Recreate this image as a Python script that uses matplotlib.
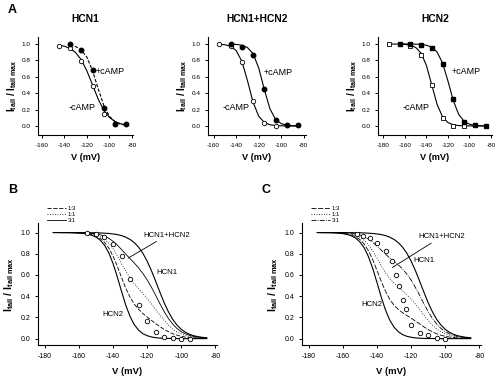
import matplotlib
matplotlib.use("Agg")
import matplotlib.pyplot as plt

plt.rcParams['font.family'] = ['Liberation Sans', 'DejaVu Sans']
plt.rcParams['mathtext.fontset'] = 'custom'
plt.rcParams['mathtext.rm'] = 'Liberation Sans'
plt.rcParams['mathtext.bf'] = 'Liberation Sans:bold'
plt.rcParams['mathtext.it'] = 'Liberation Sans:italic'

# ---------------- Panel A data ----------------
titles_a = ["HCN1", "HCN1+HCN2", "HCN2"]

# HCN1
a1_minus_v = [-145, -140, -135, -130, -125, -120, -115, -110, -105, -100, -95, -90, -85]
a1_minus_fit = [0.986, 0.973, 0.946, 0.895, 0.807, 0.671, 0.5, 0.329, 0.193, 0.105, 0.054, 0.027, 0.014]
a1_plus_v = [-135, -130, -125, -120, -115, -110, -105, -100, -95, -90, -85]
a1_plus_fit = [0.987, 0.969, 0.928, 0.838, 0.674, 0.455, 0.252, 0.119, 0.052, 0.021, 0.009]
a1_open_v = [-145, -135, -125, -115, -105, -95]
a1_open_y = [0.98, 0.95, 0.79, 0.49, 0.15, 0.03]
a1_fill_v = [-135, -125, -115, -105, -95, -85]
a1_fill_y = [1.0, 0.93, 0.68, 0.22, 0.03, 0.02]

# HCN1+HCN2
a2_minus_v = [-155, -150, -145, -140, -135, -130, -125, -120, -115, -110, -105, -100, -95, -90, -85]
a2_minus_fit = [0.997, 0.991, 0.972, 0.920, 0.791, 0.555, 0.291, 0.119, 0.043, 0.015, 0.005, 0.002, 0.001, 0.0, 0.0]
a2_plus_v = [-145, -140, -135, -130, -125, -120, -115, -110, -105, -100, -95, -90, -85]
a2_plus_fit = [0.998, 0.995, 0.985, 0.957, 0.881, 0.709, 0.445, 0.209, 0.080, 0.028, 0.009, 0.003, 0.001]
a2_open_v = [-155, -145, -135, -125, -115, -105]
a2_open_y = [1.0, 0.97, 0.78, 0.30, 0.04, 0.0]
a2_fill_v = [-145, -135, -125, -115, -105, -95, -85]
a2_fill_y = [1.0, 0.96, 0.86, 0.45, 0.07, 0.01, 0.01]

# HCN2
a3_minus_v = [-175, -170, -165, -160, -155, -150, -145, -140, -135, -130, -125, -120, -115, -110, -105, -100, -95, -90, -85]
a3_minus_fit = [1.0, 0.999, 0.998, 0.995, 0.985, 0.958, 0.889, 0.739, 0.5, 0.261, 0.111, 0.042, 0.015, 0.005, 0.002, 0.001, 0.0, 0.0, 0.0]
a3_plus_v = [-165, -160, -155, -150, -145, -140, -135, -130, -125, -120, -115, -110, -105, -100, -95, -90, -85]
a3_plus_fit = [1.0, 1.0, 0.999, 0.998, 0.994, 0.985, 0.961, 0.900, 0.769, 0.550, 0.310, 0.142, 0.057, 0.022, 0.008, 0.003, 0.001]
a3_open_v = [-175, -155, -145, -135, -125, -115, -105]
a3_open_y = [1.0, 0.98, 0.86, 0.50, 0.10, 0.0, 0.0]
a3_fill_v = [-165, -155, -145, -135, -125, -115, -105, -95, -85]
a3_fill_y = [1.0, 1.0, 0.99, 0.95, 0.76, 0.33, 0.05, 0.01, 0.0]

# ---------------- Panels B / C data ----------------
v_grid = [-175, -172.5, -170, -167.5, -165, -162.5, -160, -157.5, -155, -152.5, -150, -147.5,
          -145, -142.5, -140, -137.5, -135, -132.5, -130, -127.5, -125, -122.5, -120, -117.5,
          -115, -112.5, -110, -107.5, -105, -102.5, -100, -97.5, -95, -92.5, -90, -87.5, -85]

hcn1_curve = [1.0, 1.0, 1.0, 1.0, 1.0, 1.0, 1.0, 0.999, 0.999, 0.998, 0.998, 0.996,
              0.994, 0.991, 0.987, 0.981, 0.971, 0.956, 0.935, 0.905, 0.862, 0.805, 0.731, 0.642,
              0.542, 0.438, 0.339, 0.253, 0.182, 0.128, 0.088, 0.060, 0.040, 0.027, 0.018, 0.012, 0.008]

b_hcn2_curve = [1.0, 1.0, 0.999, 0.999, 0.998, 0.997, 0.995, 0.992, 0.985, 0.975, 0.957, 0.928,
                0.881, 0.809, 0.709, 0.583, 0.445, 0.315, 0.209, 0.131, 0.080, 0.047, 0.028, 0.016,
                0.009, 0.005, 0.003, 0.002, 0.001, 0.001, 0.0, 0.0, 0.0, 0.0, 0.0, 0.0, 0.0]
b_mix13 = [1.0, 1.0, 0.999, 0.999, 0.999, 0.998, 0.996, 0.994, 0.989, 0.981, 0.967, 0.945,
           0.909, 0.855, 0.779, 0.683, 0.577, 0.475, 0.391, 0.325, 0.276, 0.237, 0.204, 0.173,
           0.142, 0.113, 0.087, 0.065, 0.046, 0.033, 0.022, 0.015, 0.010, 0.007, 0.005, 0.003, 0.002]
b_mix11 = [1.0, 1.0, 1.0, 0.999, 0.999, 0.998, 0.998, 0.996, 0.992, 0.987, 0.978, 0.962,
           0.938, 0.900, 0.848, 0.782, 0.708, 0.636, 0.572, 0.518, 0.471, 0.426, 0.380, 0.329,
           0.276, 0.222, 0.171, 0.128, 0.092, 0.065, 0.044, 0.030, 0.020, 0.014, 0.009, 0.006, 0.004]
b_mix31 = [1.0, 1.0, 1.0, 1.0, 1.0, 0.999, 0.999, 0.997, 0.995, 0.992, 0.988, 0.979,
           0.966, 0.946, 0.918, 0.882, 0.840, 0.796, 0.754, 0.712, 0.667, 0.615, 0.555, 0.486,
           0.409, 0.330, 0.255, 0.190, 0.137, 0.096, 0.066, 0.045, 0.030, 0.020, 0.014, 0.009, 0.006]
b_circ_v = [-155, -150, -145, -140, -135, -130, -125, -120, -115, -110, -105, -100, -95]
b_circ_y = [1.0, 0.99, 0.96, 0.89, 0.78, 0.56, 0.32, 0.17, 0.06, 0.02, 0.01, 0.0, 0.0]

c_hcn2_curve = [1.0, 0.999, 0.999, 0.998, 0.997, 0.994, 0.990, 0.982, 0.969, 0.947, 0.911, 0.856,
                0.772, 0.661, 0.528, 0.391, 0.269, 0.174, 0.108, 0.065, 0.038, 0.022, 0.013, 0.007,
                0.004, 0.002, 0.001, 0.001, 0.0, 0.0, 0.0, 0.0, 0.0, 0.0, 0.0, 0.0, 0.0]
c_mix13 = [1.0, 0.999, 0.999, 0.999, 0.998, 0.996, 0.993, 0.986, 0.977, 0.960, 0.933, 0.891,
           0.828, 0.744, 0.643, 0.539, 0.445, 0.370, 0.315, 0.275, 0.244, 0.218, 0.193, 0.166,
           0.139, 0.111, 0.086, 0.064, 0.046, 0.032, 0.022, 0.015, 0.010, 0.007, 0.005, 0.003, 0.002]
c_mix11 = [1.0, 1.0, 1.0, 0.999, 0.999, 0.997, 0.995, 0.991, 0.984, 0.973, 0.955, 0.926,
           0.883, 0.826, 0.758, 0.686, 0.620, 0.565, 0.522, 0.485, 0.450, 0.414, 0.372, 0.325,
           0.273, 0.220, 0.170, 0.127, 0.091, 0.064, 0.044, 0.030, 0.020, 0.014, 0.009, 0.006, 0.004]
c_mix31 = [1.0, 1.0, 1.0, 1.0, 0.999, 0.999, 0.998, 0.995, 0.992, 0.985, 0.976, 0.961,
           0.939, 0.909, 0.872, 0.834, 0.796, 0.761, 0.728, 0.695, 0.656, 0.609, 0.552, 0.483,
           0.408, 0.329, 0.255, 0.190, 0.137, 0.096, 0.066, 0.045, 0.030, 0.020, 0.014, 0.009, 0.006]
c_circ_v = [-152, -148, -144, -140, -135, -131, -129, -127, -125, -123, -120, -115, -110, -105, -100]
c_circ_y = [0.99, 0.97, 0.95, 0.90, 0.83, 0.73, 0.60, 0.50, 0.36, 0.28, 0.13, 0.05, 0.03, 0.01, 0.0]

legend_labels = ["1:3", "1:1", "3:1"]
y_ticks = [0.0, 0.2, 0.4, 0.6, 0.8, 1.0]
y_ticklabels = ["0.0", "0.2", "0.4", "0.6", "0.8", "1.0"]

YLAB = r'$\mathbf{I_{tail}\ /\ I_{tail\ max}}$'

W, H = 500, 381
fig = plt.figure(figsize=(5.0, 3.81), dpi=100)


def add_ax(l, r, t, b):
    return fig.add_axes([l / W, 1 - b / H, (r - l) / W, (b - t) / H])


def style(ax, fs, xticks, xlim, ylim):
    for s in ['top', 'right']:
        ax.spines[s].set_visible(False)
    for s in ['left', 'bottom']:
        ax.spines[s].set_linewidth(0.8)
    ax.set_xlim(*xlim)
    ax.set_ylim(*ylim)
    ax.set_xticks(xticks)
    ax.set_xticklabels([str(t) for t in xticks])
    ax.set_yticks(y_ticks)
    ax.set_yticklabels(y_ticklabels)
    ax.tick_params(direction='out', length=2.5, width=0.7, labelsize=fs, pad=3)
    ax.patch.set_visible(False)


lw = 0.8
ms = 3.2

# ---- Panel A ----
axA = [add_ax(38, 133, 37, 135), add_ax(208, 306, 37, 135), add_ax(378, 492, 37, 135)]
style(axA[0], 4.6, [-160, -140, -120, -100, -80], (-163.5, -79), (-0.11, 1.085))
style(axA[1], 4.6, [-160, -140, -120, -100, -80], (-165, -78), (-0.11, 1.085))
style(axA[2], 4.6, [-180, -160, -140, -120, -100, -80], (-185, -79), (-0.11, 1.085))

ax = axA[0]
ax.plot(a1_minus_v, a1_minus_fit, color='black', lw=lw)
ax.plot(a1_plus_v, a1_plus_fit, color='black', lw=lw, ls=(0, (3, 1.5)))
ax.plot(a1_open_v, a1_open_y, 'o', mfc='white', mec='black', mew=0.6, ms=ms)
ax.plot(a1_fill_v, a1_fill_y, 'o', color='black', ms=ms)
ax.text(-112, 0.66, '+cAMP', fontsize=6.5, va='center', ha='left')
ax.text(-136, 0.23, '-cAMP', fontsize=6.5, va='center', ha='left')

ax = axA[1]
ax.plot(a2_minus_v, a2_minus_fit, color='black', lw=lw)
ax.plot(a2_plus_v, a2_plus_fit, color='black', lw=lw)
ax.plot(a2_open_v, a2_open_y, 'o', mfc='white', mec='black', mew=0.6, ms=ms)
ax.plot(a2_fill_v, a2_fill_y, 'o', color='black', ms=ms)
ax.text(-116, 0.65, '+cAMP', fontsize=6.5, va='center', ha='left')
ax.text(-152, 0.22, '-cAMP', fontsize=6.5, va='center', ha='left')

ax = axA[2]
ax.plot(a3_minus_v, a3_minus_fit, color='black', lw=lw)
ax.plot(a3_plus_v, a3_plus_fit, color='black', lw=lw)
ax.plot(a3_open_v, a3_open_y, 's', mfc='white', mec='black', mew=0.6, ms=ms * 0.9)
ax.plot(a3_fill_v, a3_fill_y, 's', color='black', ms=ms * 0.9)
ax.text(-117, 0.66, '+cAMP', fontsize=6.5, va='center', ha='left')
ax.text(-162, 0.22, '-cAMP', fontsize=6.5, va='center', ha='left')

for ax, t in zip(axA, titles_a):
    ax.set_title(t, fontsize=7.4, fontweight='bold', pad=11)
    ax.set_xlabel('V (mV)', fontsize=6.6, fontweight='bold', labelpad=4)
    ax.set_ylabel(YLAB, fontsize=7.2, labelpad=2)

# ---- Panels B and C ----
axB = add_ax(38, 217, 223, 345)
axC = add_ax(302, 481, 223, 345)
for ax in (axB, axC):
    style(ax, 5.0, [-180, -160, -140, -120, -100, -80], (-184, -79), (-0.06, 1.09))
    ax.set_xlabel('V (mV)', fontsize=6.8, fontweight='bold', labelpad=5)
    ax.set_ylabel(YLAB, fontsize=7.6, labelpad=3)

thin = 0.6
# B
ax = axB
ax.plot(v_grid, hcn1_curve, color='black', lw=lw)
ax.plot(v_grid, b_hcn2_curve, color='black', lw=lw)
l1, = ax.plot(v_grid, b_mix13, color='black', lw=thin, ls=(0, (5, 2)))
l2, = ax.plot(v_grid, b_mix11, color='black', lw=thin, ls=(0, (1, 2)))
l3, = ax.plot(v_grid, b_mix31, color='black', lw=thin, ls='-')
ax.plot(b_circ_v, b_circ_y, 'o', mfc='white', mec='black', mew=0.6, ms=3.2)
ax.legend([l1, l2, l3], legend_labels, loc='lower left', bbox_to_anchor=(0.03, 0.97),
          frameon=False, fontsize=4.2, handlelength=3.2, labelspacing=0.15,
          handletextpad=0.4, borderpad=0.1)
ax.annotate('HCN1+HCN2', xy=(-131, 0.76), xytext=(-122, 0.975), fontsize=5.6,
            ha='left', va='center', arrowprops=dict(arrowstyle='-', lw=0.6, color='black',
                                                    shrinkA=0, shrinkB=0))
ax.text(-114.5, 0.62, 'HCN1', fontsize=5.6, ha='left', va='center')
ax.text(-146, 0.23, 'HCN2', fontsize=5.6, ha='left', va='center')

# C
ax = axC
ax.plot(v_grid, hcn1_curve, color='black', lw=lw)
ax.plot(v_grid, c_hcn2_curve, color='black', lw=lw)
m1, = ax.plot(v_grid, c_mix13, color='black', lw=thin, ls=(0, (6, 2)))
m2, = ax.plot(v_grid, c_mix11, color='black', lw=thin, ls=(0, (1, 2)))
m3, = ax.plot(v_grid, c_mix31, color='black', lw=thin, ls=(0, (6, 1.5, 1, 1.5)))
ax.plot(c_circ_v, c_circ_y, 'o', mfc='white', mec='black', mew=0.6, ms=3.2)
ax.legend([m1, m2, m3], legend_labels, loc='lower left', bbox_to_anchor=(0.03, 0.97),
          frameon=False, fontsize=4.2, handlelength=3.2, labelspacing=0.15,
          handletextpad=0.4, borderpad=0.1)
ax.annotate('HCN1+HCN2', xy=(-131, 0.67), xytext=(-116, 0.96), fontsize=5.6,
            ha='left', va='center', arrowprops=dict(arrowstyle='-', lw=0.6, color='black',
                                                    shrinkA=0, shrinkB=0))
ax.text(-118.5, 0.74, 'HCN1', fontsize=5.6, ha='left', va='center')
ax.text(-149, 0.32, 'HCN2', fontsize=5.6, ha='left', va='center')

# panel letters
fig.text(8 / W, 1 - 10 / H, 'A', fontsize=9, fontweight='bold', va='center', ha='left')
fig.text(8 / W, 1 - 190 / H, 'B', fontsize=9, fontweight='bold', va='center', ha='left')
fig.text(262 / W, 1 - 190 / H, 'C', fontsize=9, fontweight='bold', va='center', ha='left')

fig.savefig('out.png', dpi=100)
